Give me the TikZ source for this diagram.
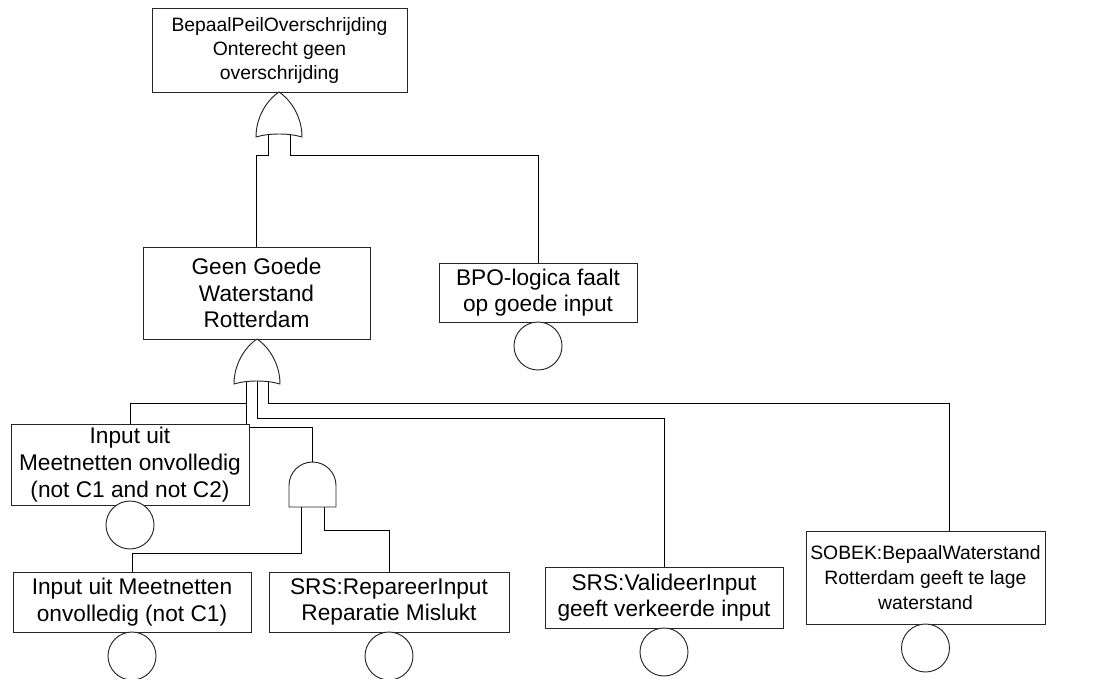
\documentclass[tikz,border=0pt]{standalone}
\usepackage{fontspec}
\setmainfont{Liberation Sans}
\usetikzlibrary{positioning}
\usetikzlibrary{backgrounds}

\begin{document}
\begin{tikzpicture}[x=0.75pt, y=-0.75pt, line width=0.7pt, black!85, text=black,
  event/.style={rectangle, draw, fill=white, inner sep=0pt, outer sep=0pt, align=center,
    font=\fontsize{17}{20}\selectfont},
  basic/.style={circle, draw, fill=white, minimum size=36pt, inner sep=0pt, outer sep=0pt},
  orgate/.pic={
    \draw[fill=white] (-23,45) .. controls (-23,25) and (-12,8) .. (0,0)
      .. controls (12,8) and (23,25) .. (23,45)
      .. controls (10,41) and (-10,41) .. cycle;
    \coordinate (-l) at (-11,42.5);
    \coordinate (-m) at (0,42);
    \coordinate (-r) at (11,42.5);
  },
  andgate/.pic={
    \draw[fill=white] (-23.5,45) -- (-23.5,23.5)
      arc[start angle=-180, end angle=0, radius=23.5] -- (23.5,45) -- cycle;
    \coordinate (-top) at (0,0);
    \coordinate (-l) at (-11,45);
    \coordinate (-r) at (12,45);
  }]

  \useasboundingbox (0,0) rectangle (1101,679);

  % top event
  \node[event, minimum width=191.25pt, minimum height=63pt,
    font=\fontsize{14.5}{18}\selectfont] (peil) at (279.5,50)
    {BepaalPeilOverschrijding\\Onterecht geen\\overschrijding};
  \pic (or1) at (279,92) {orgate};

  \node[event, minimum width=170.25pt, minimum height=69pt] (geen) at (256.5,293)
    {Geen Goede\\Waterstand\\Rotterdam};
  \node[event, minimum width=148.5pt, minimum height=44.25pt] (bpo) at (538,292.5)
    {BPO-logica faalt\\op goede input};
  \node[basic, below=0pt of bpo] (bpoc) {};
  \pic (or2) at (257,339) {orgate};

  \node[event, minimum width=178.5pt, minimum height=60.75pt] (meet12) at (130,464.5)
    {Input uit\\Meetnetten onvolledig\\(not C1 and not C2)};
  \node[basic, below=-3pt of meet12] (meet12c) {};
  \pic (and1) at (312.5,462) {andgate};

  % bottom row
  \node[event, minimum width=178.5pt, minimum height=45pt] (meet1) at (132,602)
    {Input uit Meetnetten\\onvolledig (not C1)};
  \node[basic, below=0pt of meet1] (meet1c) {};
  \node[event, minimum width=180pt, minimum height=45pt] (repareer) at (389,602)
    {SRS:RepareerInput\\Reparatie Mislukt};
  \node[basic, below=0pt of repareer] (repareerc) {};
  \node[event, minimum width=178.5pt, minimum height=45.75pt] (valideer) at (664,597.5)
    {SRS:ValideerInput\\geeft verkeerde input};
  \node[basic, below=0pt of valideer] (valideerc) {};
  \node[event, minimum width=179.25pt, minimum height=69.75pt,
    font=\fontsize{14.5}{19}\selectfont] (sobek) at (925.5,577.5)
    {SOBEK:BepaalWaterstand\\Rotterdam geeft te lage\\waterstand};
  \node[basic, below=0pt of sobek] (sobekc) {};

  % connectors
  \begin{scope}[on background layer]
    \draw (or1-l) -- ++(0,20.5) -| (geen.north);
    \draw (or1-r) -- ++(0,20.5) -| (bpo.north);
    \draw (or2-l) -- ++(0,21.5) -| (meet12.north);
    \draw (or2-l) -- ++(0,45.5) -| (and1-top);
    \draw (or2-m) -- ++(0,37) -| (valideer.north);
    \draw (or2-r) -- ++(0,21.5) -| ([xshift=18pt]sobek.north);
    \draw (and1-l) -- ++(0,46) -| (meet1.north);
    \draw (and1-r) -- ++(0,23) -| (repareer.north);
  \end{scope}
\end{tikzpicture}
\end{document}
